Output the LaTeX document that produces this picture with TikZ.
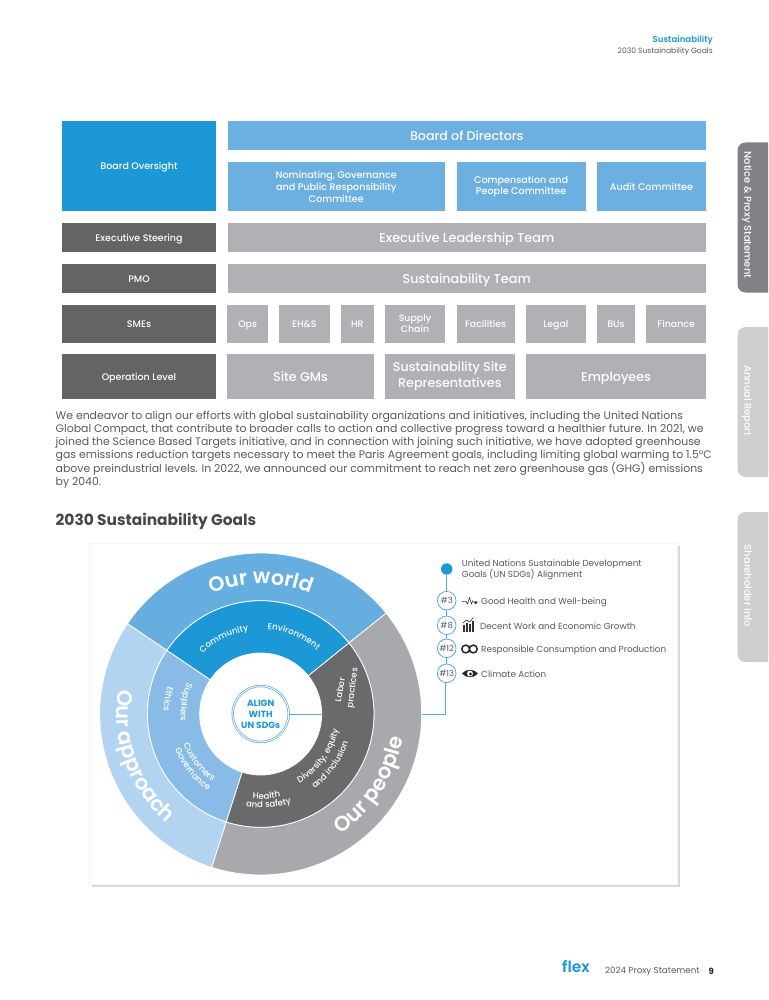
\documentclass[tikz,border=0pt]{standalone}
\usepackage{fontspec}
\setmainfont{Poppins}
\newfontfamily\medfont{Poppins Medium}
\newfontfamily\semifont{Poppins SemiBold}
\usepackage{tikz}
\usetikzlibrary{arrows.meta,positioning,shapes.geometric,calc,decorations.text}
\definecolor{flexblue}{RGB}{27,152,213}
\definecolor{flexsky}{RGB}{107,176,224}
\definecolor{flexpale}{RGB}{179,212,241}
\definecolor{flexmid}{RGB}{136,188,231}
\definecolor{flexdark}{RGB}{99,100,102}
\definecolor{flexring}{RGB}{105,106,108}
\definecolor{flexgray}{RGB}{176,177,180}
\definecolor{flexpeople}{RGB}{167,169,172}
\definecolor{flextext}{RGB}{88,89,91}
\definecolor{flextab}{RGB}{128,130,133}
\definecolor{flexoff}{RGB}{205,206,208}
\definecolor{flexline}{RGB}{91,169,220}
\newcommand{\pxfont}[1]{\fontsize{#1}{#1}\selectfont}
% one piece of a ring: from angle, to angle, inner radius, outer radius, colour
\newcommand{\ringpiece}[5]{\fill[#5, draw=white, line width=0.8pt] (#1:#3) arc[start angle=#1, end angle=#2, radius=#3]
  -- (#2:#4) arc[start angle=#2, end angle=#1, radius=#4] -- cycle;}
% text on a ring: radius, from angle, to angle, font, text
\newcommand{\ringlabel}[5]{\path[decorate, decoration={text along path, text align=center,
  text={|\color{white}#4|#5}}] (#2:#1) arc[start angle=#2, end angle=#3, radius=#1];}

\begin{document}
\begin{tikzpicture}[x=1pt, y=-1pt]
    \tikzset{orgbox/.style={rectangle, draw=none, inner sep=0pt, text=white, align=center}}
    \tikzset{onebox/.style={orgbox, text height=7pt, text depth=0pt}}
    \tikzset{bigbox/.style={orgbox, text height=9.2pt, text depth=0pt}}
    \tikzset{leadbox/.style={onebox, minimum width=154pt, font=\medfont\pxfont{9.5}}}
    \tikzset{sdgnum/.style={circle, minimum size=18.6pt, inner sep=0pt, draw=flexline, line width=0.8pt,
      fill=white, text=flextext, text height=6.2pt, text depth=0pt, font=\pxfont{8.5}}}
    \tikzset{sdgtext/.style={anchor=west, inner sep=0pt, text=flextext, font=\pxfont{8.8}}}
    \tikzset{sdgrow/.style={sdgtext, text height=6.4pt, text depth=0pt}}
    \tikzset{tabbox/.style={rectangle, rounded corners=8pt, minimum width=50pt, minimum height=150pt}}
    \tikzset{tabtext/.style={rotate=-90, inner sep=0pt, text=white, text height=7.2pt, text depth=0pt, font=\medfont\pxfont{9.9}}}
    \tikzset{ringword/.style={inner sep=0pt, text=white, text height=6.2pt, text depth=0pt, font=\medfont\pxfont{8.6}}}

    \useasboundingbox (0,0) rectangle (768,1000);

    % Header
    \node[anchor=east, inner sep=0pt, text=flexblue, font=\semifont\pxfont{8.6}] (section) at (713,40) {Sustainability};
    \node[anchor=east, inner sep=0pt, text=flextext, font=\pxfont{7.6}] (subsection) at (713,52) {2030 Sustainability Goals};

    % Side tabs
    \begin{scope}
      \clip (730,130) rectangle (768,680);
      \node[tabbox, fill=flextab] (tabnotice) at (762.5,217.5) {};
      \node[tabbox, fill=flexoff] (tabannual) at (762.5,402) {};
      \node[tabbox, fill=flexoff] (tabshare) at (762.5,587) {};
    \end{scope}
    \node[tabtext] (noticelabel) at (748,215) {Notice \& Proxy Statement};
    \node[tabtext] (annuallabel) at (748,401) {Annual Report};
    \node[tabtext] (sharelabel) at (748,586) {Shareholder Info};

    % Left column
    \node[leadbox, fill=flexblue, minimum height=90pt] (oversight) at (139,166.5) {Board Oversight};
    \node[leadbox, fill=flexdark, minimum height=29pt] (steering) at (139,237.8) {Executive Steering};
    \node[leadbox, fill=flexdark, minimum height=29pt] (pmo) at (139,278.5) {PMO};
    \node[leadbox, fill=flexdark, minimum height=38pt] (smes) at (139,323.7) {SMEs};
    \node[leadbox, fill=flexdark, minimum height=44.4pt] (oplevel) at (139,376.5) {Operation Level};

    % Board row
    \node[bigbox, fill=flexsky, minimum width=478.5pt, minimum height=29pt, font=\medfont\pxfont{12.6}] (board) at (466.75,136) {Board of Directors};
    \node[orgbox, fill=flexsky, minimum width=217.5pt, minimum height=49.5pt, font=\medfont\pxfont{9.6}, execute at begin node=\setlength{\baselineskip}{11.6pt}] (nominating) at (336.25,186.75)
      {Nominating, Governance\\and Public Responsibility\\Committee};
    \node[orgbox, fill=flexsky, minimum width=129.2pt, minimum height=49.5pt, font=\medfont\pxfont{9.6}, execute at begin node=\setlength{\baselineskip}{11.6pt}] (compensation) at (521.1,186.75)
      {Compensation and\\People Committee};
    \node[onebox, fill=flexsky, minimum width=109pt, minimum height=49.5pt, font=\medfont\pxfont{9.6}] (audit) at (651.5,186.75) {Audit Committee};

    % Team rows
    \node[bigbox, fill=flexgray, minimum width=478.5pt, minimum height=29pt, font=\medfont\pxfont{12.8}] (leaders) at (466.75,237.8) {Executive Leadership Team};
    \node[bigbox, fill=flexgray, minimum width=478.5pt, minimum height=29pt, font=\medfont\pxfont{12.8}] (team) at (466.75,278.5) {Sustainability Team};

    % SME row
    \node[onebox, fill=flexgray, minimum width=40.5pt, minimum height=38pt, font=\medfont\pxfont{9.4}] (ops) at (247.7,323.7) {Ops};
    \node[onebox, fill=flexgray, minimum width=50.7pt, minimum height=38pt, font=\medfont\pxfont{9.4}] (ehs) at (304.3,323.7) {EH\&S};
    \node[onebox, fill=flexgray, minimum width=32.7pt, minimum height=38pt, font=\medfont\pxfont{9.4}] (hr) at (357.3,323.7) {HR};
    \node[orgbox, fill=flexgray, minimum width=60pt, minimum height=38pt, font=\medfont\pxfont{9.4}, execute at begin node=\setlength{\baselineskip}{11.4pt}] (supply) at (415,323.7) {Supply\\Chain};
    \node[onebox, fill=flexgray, minimum width=58.2pt, minimum height=38pt, font=\medfont\pxfont{9.4}] (facilities) at (485.6,323.7) {Facilities};
    \node[onebox, fill=flexgray, minimum width=59.7pt, minimum height=38pt, font=\medfont\pxfont{9.4}] (legal) at (555.85,323.7) {Legal};
    \node[onebox, fill=flexgray, minimum width=38pt, minimum height=38pt, font=\medfont\pxfont{9.4}] (bus) at (616,323.7) {BUs};
    \node[onebox, fill=flexgray, minimum width=59.7pt, minimum height=38pt, font=\medfont\pxfont{9.4}] (finance) at (676.15,323.7) {Finance};

    % Operation row
    \node[bigbox, fill=flexgray, minimum width=146.4pt, minimum height=44.4pt, font=\medfont\pxfont{12.7}] (sitegms) at (300.5,376.5) {Site GMs};
    \node[orgbox, fill=flexgray, minimum width=129.7pt, minimum height=44.4pt, font=\medfont\pxfont{12.7}, execute at begin node=\setlength{\baselineskip}{15.7pt}] (reps) at (449.85,376.5)
      {Sustainability Site\\Representatives};
    \node[bigbox, fill=flexgray, minimum width=180pt, minimum height=44.4pt, font=\medfont\pxfont{12.7}] (employees) at (616,376.5) {Employees};

    % Paragraph
    \node[anchor=north west, inner sep=0pt, align=left, text=flextext, font=\pxfont{10.9}, execute at begin node=\setlength{\baselineskip}{13.1pt}] (para) at (55.5,410.5)
      {We endeavor to align our efforts with global sustainability organizations and initiatives, including the United Nations\\
       Global Compact, that contribute to broader calls to action and collective progress toward a healthier future. In 2021, we\\
       joined the Science Based Targets initiative, and in connection with joining such initiative, we have adopted greenhouse\\
       gas emissions reduction targets necessary to meet the Paris Agreement goals, including limiting global warming to 1.5°C\\
       above preindustrial levels. In 2022, we announced our commitment to reach net zero greenhouse gas (GHG) emissions\\
       by 2040.};
    \node[anchor=west, inner sep=0pt, text=flextext!80!black, font=\pxfont{15.4}\bfseries] (heading) at (55.5,521.5) {2030 Sustainability Goals};

    % Card
    \fill[black!15] (92,546) rectangle (680,886.5);
    \fill[black!4] (89,543) rectangle (678,885);
    \node[rectangle, fill=white, minimum width=587pt, minimum height=340pt, inner sep=0pt] (card) at (383.5,714) {};

    % Core and SDG list
    \node[circle, minimum size=56pt, inner sep=0pt, fill=white, draw=flexline, line width=0.7pt, double=white, double distance=0.9pt,
      text=flexblue, align=center, font=\pxfont{9}\bfseries, execute at begin node=\setlength{\baselineskip}{11pt}] (core) at (260.7,714) {ALIGN\\WITH\\UN SDGs};
    \node[circle, minimum size=11.4pt, inner sep=0pt, fill=flexblue] (sdgdot) at (446.7,569) {};
    \node[sdgnum] (sdg3) at (446.7,600.7) {\#3};
    \node[sdgnum] (sdg8) at (446.7,625.3) {\#8};
    \node[sdgnum] (sdg12) at (446.7,648.3) {\#12};
    \node[sdgnum] (sdg13) at (446.7,673.3) {\#13};
    \coordinate (corner) at (445.5,714);
    \draw[flexline, line width=0.8pt] (sdgdot) -- (sdg3);
    \draw[flexline, line width=0.8pt] (sdg3) -- (sdg8);
    \draw[flexline, line width=0.8pt] (sdg8) -- (sdg12);
    \draw[flexline, line width=0.8pt] (sdg12) -- (sdg13);
    \draw[flexline, line width=0.8pt] (sdg13.south -| corner) -- (corner) -- (core);

    \node[sdgtext, align=left, execute at begin node=\setlength{\baselineskip}{11.2pt}] (sdgtitle) at (461.7,570)
      {United Nations Sustainable Development\\Goals (UN SDGs) Alignment};
    \node[sdgrow] (sdgtext3) at (481,601.2) {Good Health and Well-being};
    \node[sdgrow] (sdgtext8) at (480,626) {Decent Work and Economic Growth};
    \node[sdgrow] (sdgtext12) at (481,649) {Responsible Consumption and Production};
    \node[sdgrow] (sdgtext13) at (481,674) {Climate Action};

    % SDG icons
    \draw[black!80, line width=0.6pt, line join=round] (461.5,601.3) -- (466,601.3) -- (467.5,604) -- (469.5,597.5) -- (471.5,604) -- (473,600.5);
    \fill[black!80] (475.7,604.5) -- (472.8,600.8) arc[start angle=180, end angle=0, radius=1.45] arc[start angle=180, end angle=0, radius=1.45] -- cycle;
    \fill[black!80] (463,624.5) rectangle (465,631.5);
    \fill[black!80] (466,622.5) rectangle (468,631.5);
    \fill[black!80] (469,624) rectangle (471,631.5);
    \fill[black!80] (472,621) rectangle (474,631.5);
    \draw[black!80, line width=0.6pt] (463,623) -- (466.5,620) -- (469.5,622) -- (473.5,617.5);
    \draw[black!85, line width=1.5pt] (465.7,649) circle[radius=3.9] (473.3,649) circle[radius=3.9];
    \fill[black!85] (462,673.5) .. controls (466,668.5) and (474,668.5) .. (478,673.5) .. controls (474,678.5) and (466,678.5) .. (462,673.5) -- cycle;
    \fill[white] (470,673.5) circle[radius=3];
    \fill[black!85] (470.4,674) circle[radius=1.6];

    % Wheel
    \begin{scope}[shift={(260.7,714)}, y=1pt]
      \ringpiece{38.8}{145.9}{113.3}{161}{flexsky!92!flexblue}
      \ringpiece{145.9}{252.3}{113.3}{161}{flexpale}
      \ringpiece{252.3}{398.8}{113.3}{161}{flexpeople}
      \ringpiece{38.8}{145.9}{61}{113.3}{flexblue}
      \ringpiece{145.9}{252.3}{61}{113.3}{flexmid}
      \ringpiece{252.3}{398.8}{61}{113.3}{flexring}

      \ringlabel{130}{135}{45}{\semifont\pxfont{20.6}}{Our world}
      \ringlabel{144}{144.7}{254.7}{\semifont\pxfont{21}}{Our approach}
      \ringlabel{144}{272}{382}{\semifont\pxfont{21}}{Our people}

      \ringlabel{84}{166}{66}{\medfont\pxfont{8.6}}{Community}
      \ringlabel{85}{117}{17}{\medfont\pxfont{8.6}}{Environment}
      \ringlabel{79}{-86}{14}{\medfont\pxfont{8.6}}{Diversity, equity}
      \ringlabel{92}{-86}{14}{\medfont\pxfont{8.6}}{and inclusion}
      \ringlabel{85}{224}{324}{\medfont\pxfont{8.6}}{Health}
      \ringlabel{94}{225}{325}{\medfont\pxfont{8.6}}{and safety}
      \ringlabel{80}{121}{221}{\medfont\pxfont{8.6}}{Suppliers}
      \ringlabel{97}{121}{221}{\medfont\pxfont{8.6}}{Ethics}
      \ringlabel{83}{168}{268}{\medfont\pxfont{8.6}}{Customers}
      \ringlabel{93}{169}{269}{\medfont\pxfont{8.6}}{Governance}
    \end{scope}
    \node[ringword, rotate=80] (labor) at (340,690) {Labor};
    \node[ringword, rotate=83] (practices) at (352,688) {practices};

    % Footer
    \node[anchor=west, inner sep=0pt, text=flexblue, font=\semifont\pxfont{15.5}] (logo) at (562,967) {flex};
    \node[anchor=west, inner sep=0pt, text=flextext, font=\pxfont{8.7}] (footer) at (605,971) {2024 Proxy Statement};
    \node[anchor=east, inner sep=0pt, text=black!85, font=\pxfont{8.6}\bfseries] (pagenum) at (714,971) {9};
  \end{tikzpicture}
\end{document}
